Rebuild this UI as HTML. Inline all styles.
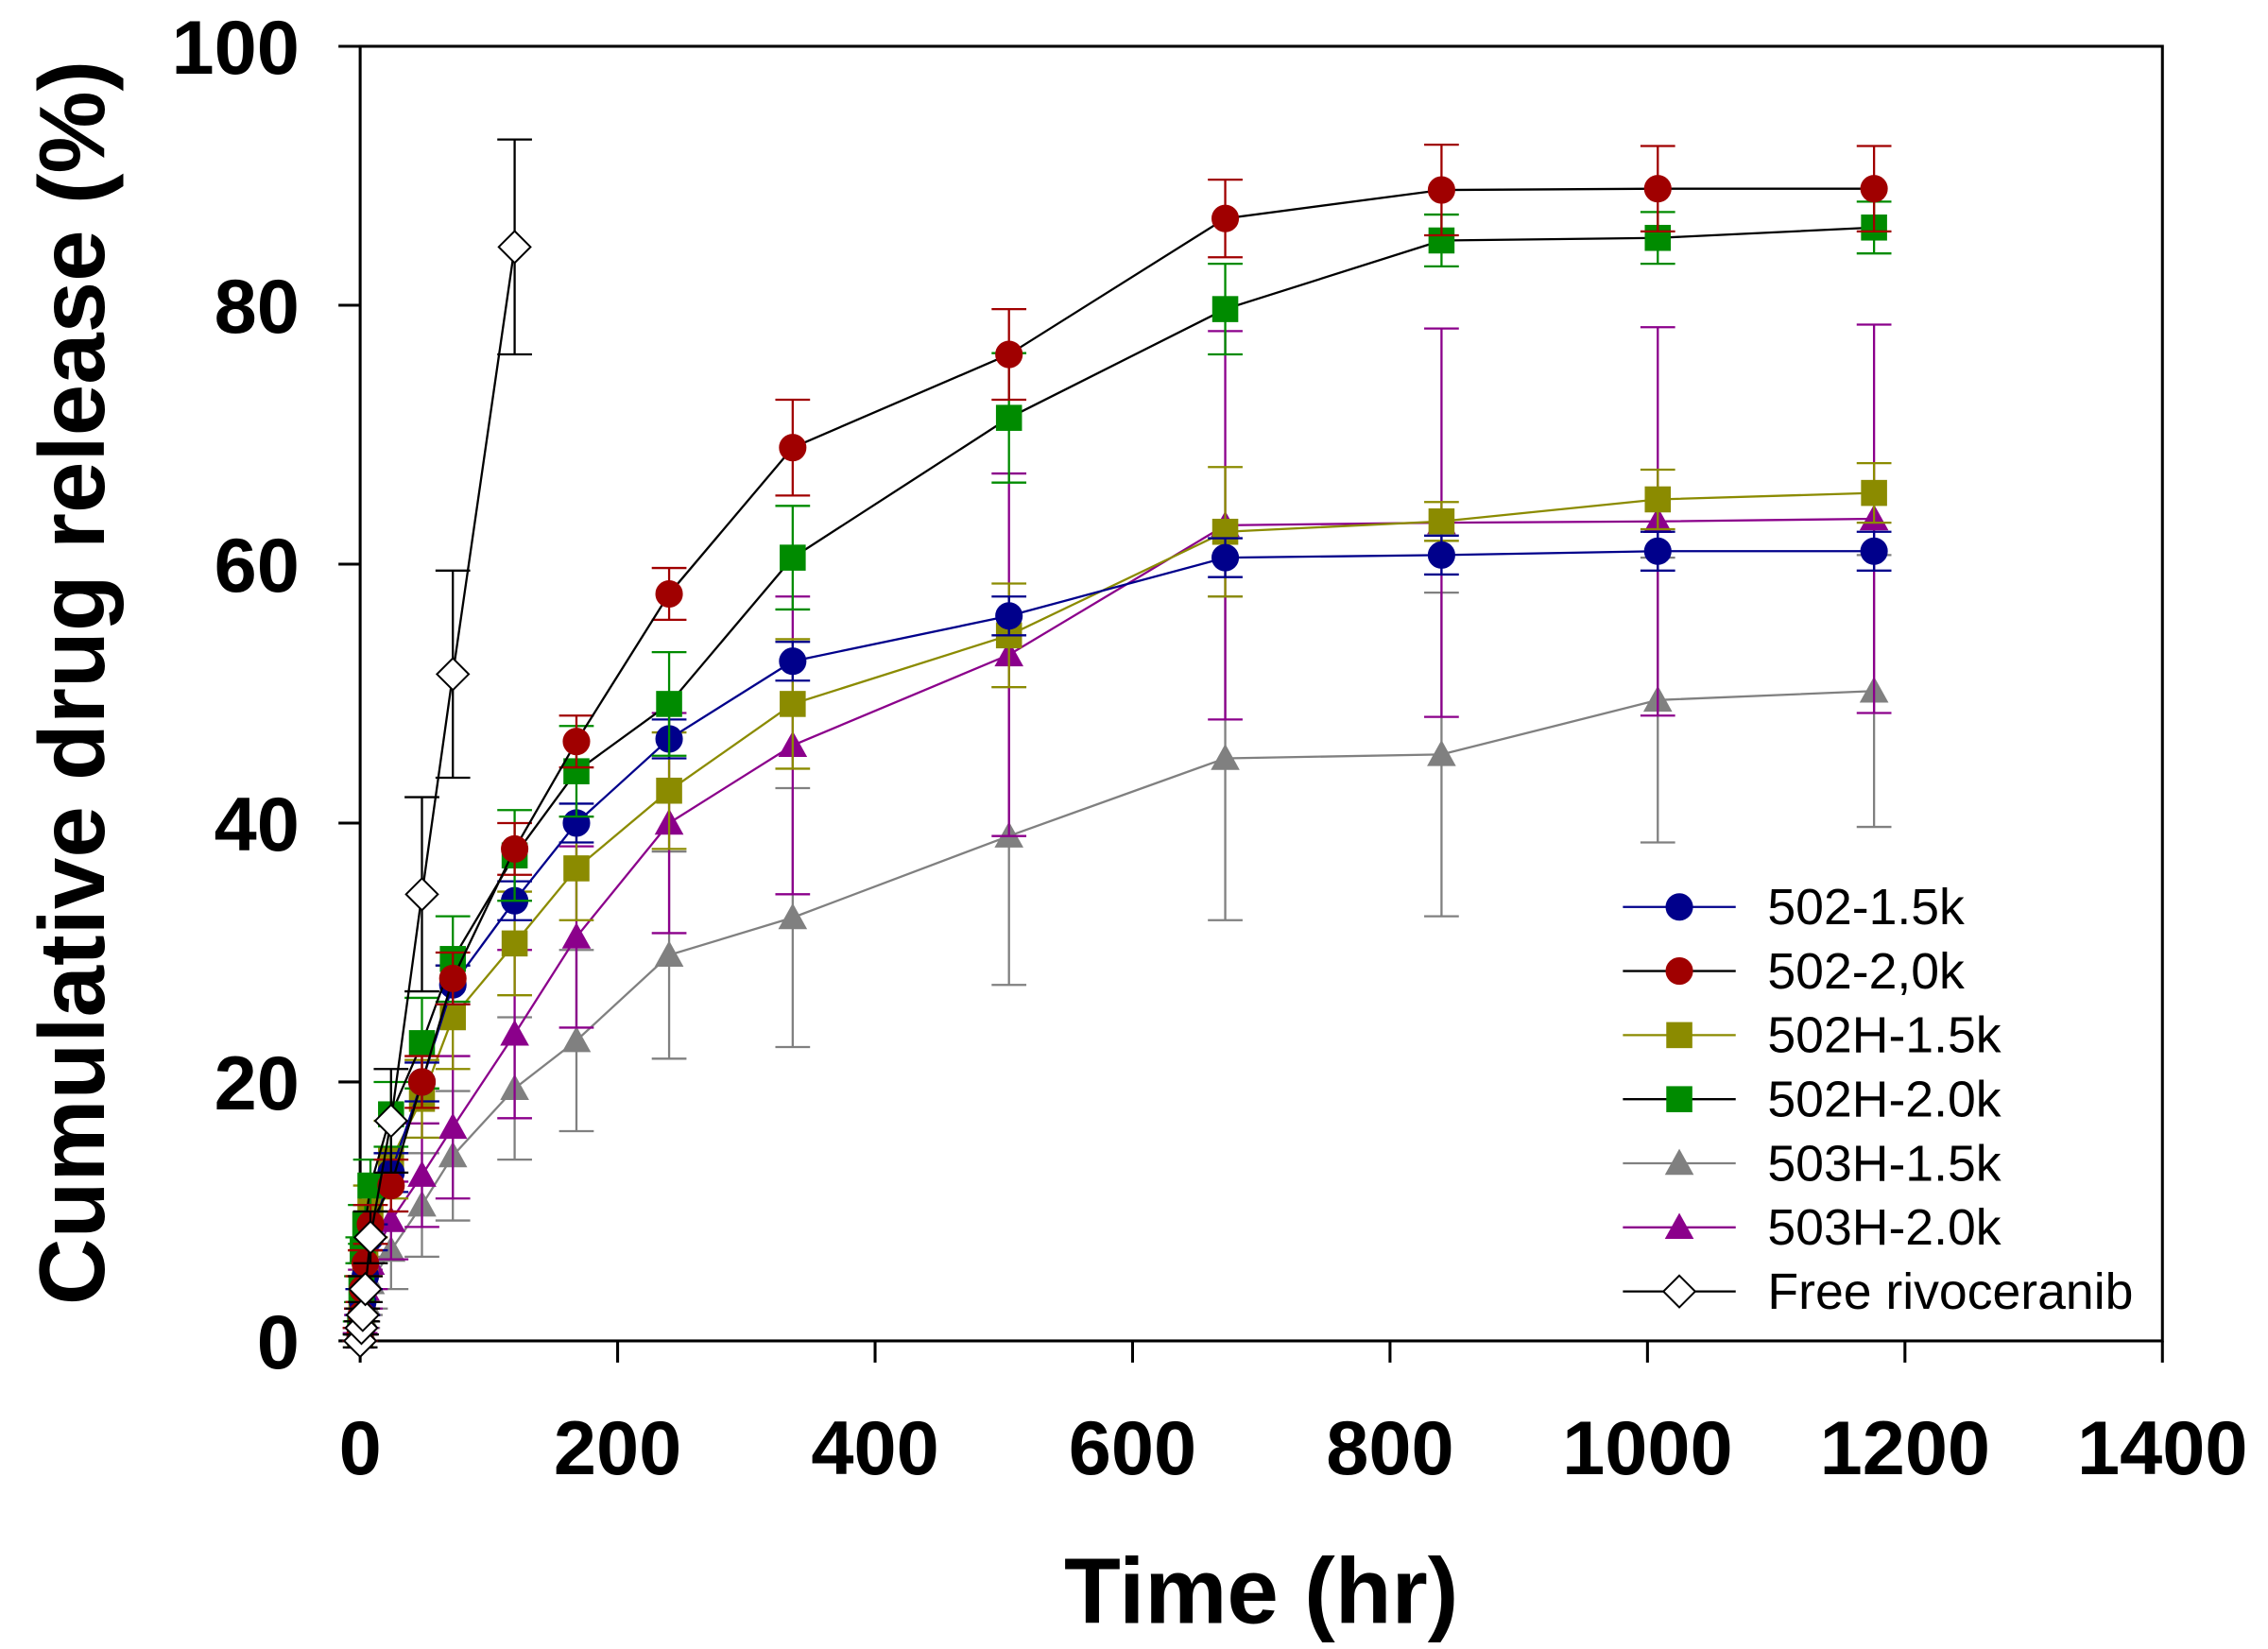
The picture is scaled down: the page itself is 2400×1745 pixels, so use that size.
<!DOCTYPE html>
<html><head><meta charset="utf-8"><style>html,body{margin:0;padding:0;background:#fff}svg{display:block}</style></head>
<body>
<svg width="2400" height="1745" viewBox="0 0 1568 1140" preserveAspectRatio="none" xmlns="http://www.w3.org/2000/svg" font-family="Liberation Sans, Arial, sans-serif">
<g id="plot"></g>
</svg>
<script>
const times = [0,1,2,4,8,24,48,72,120,168,240,336,504,672,840,1008,1176];
const freeTimes = [0,1,2,4,8,24,48,72,120];
const freeVals = [0,1,2,4,8,17,34.5,51.5,84.5];
const freeErr = [0.5,0.5,0.5,1,2,4,7.5,8,8.3];
const blueVals = [0.5,2,3,5,8,13,20,27.5,34,40,46.5,52.5,56,60.5,60.7,61,61];
const blueErr = [0.5,0.5,1,1,1,1.5,1.5,1.5,1.5,1.5,1.5,1.5,1.5,1.5,1.5,1.5,1.5];
const redVals = [0.5,2,4,6,9,12,20,28,38,46.3,57.7,69,76.2,86.7,88.9,89,89];
const redErr = [0.5,0.5,1,1,1.5,2,2,2,2,2,2,3.7,3.5,3,3.5,3.3,3.3];
const oliveVals = [0.5,2,4,6,10,14,18.7,25,30.7,36.5,42.5,49.2,54.5,62.5,63.3,65,65.5];
const oliveErr = [0.5,0.5,1,1,2,3,3,4,4,4,4.5,5,4,5,1.5,2.3,2.3];
const greenVals = [1,4,7,9,12,17.5,23,29.5,37.5,44,49.2,60.5,71.3,79.7,85,85.2,86];
const greenErr = [0.5,1,1,1.5,2,2.5,3.5,3.3,3.5,3.5,4,4,5,3.5,2,2,2];
const grayVals = [0.3,1,2,3,4.5,7,10.5,14.3,19.5,23.2,29.8,32.7,39,45,45.3,49.5,50.2];
const grayErr = [0.3,0.5,1,1,2,3,4,5,5.5,7,8,10,11.5,12.5,12.5,11,10.5];
const purpleVals = [0.3,1.5,3,4,6,9.3,12.8,16.5,23.7,31.2,40,46,53,63,63.2,63.3,63.5];
const purpleErr = [0.3,0.5,1,1.5,2,3,4,5.5,6.5,7,8.5,11.5,14,15,15,15,15];
const xTicks = [0,200,400,600,800,1000,1200,1400];
const yTicks = [0,20,40,60,80,100];
const legendLabels = ["502-1.5k","502-2,0k","502H-1.5k","502H-2.0k","503H-1.5k","503H-2.0k","Free rivoceranib"];

const L=249,R=1495,T=32,B=927;
const sx=v=>L+(v/1400)*(R-L);
const sy=v=>B-(v/100)*(B-T);
const NS="http://www.w3.org/2000/svg";
const g=document.getElementById('plot');
function mk(tag,attrs,parent){const e=document.createElementNS(NS,tag);for(const k in attrs)e.setAttribute(k,attrs[k]);(parent||g).appendChild(e);return e;}

const frame=mk('rect',{x:L,y:T,width:R-L,height:B-T,fill:'none',stroke:'#000','stroke-width':2});


xTicks.forEach(t=>{
  const l=mk('line',{x1:sx(t),x2:sx(t),y1:B,y2:B+15,stroke:'#000','stroke-width':2});
  
  
  const tx=mk('text',{x:sx(t),y:1019,'text-anchor':'middle','font-size':53,'font-weight':'bold'});
  tx.textContent=t;
  
  
});
yTicks.forEach(t=>{
  const l=mk('line',{x1:L-15,x2:L,y1:sy(t),y2:sy(t),stroke:'#000','stroke-width':2});
  
  
  const tx=mk('text',{x:207,y:sy(t)+19,'text-anchor':'end','font-size':53,'font-weight':'bold'});
  tx.textContent=t;
  
  
});
const xt=mk('text',{x:872,y:1122,'text-anchor':'middle','font-size':64,'font-weight':'bold'});
xt.textContent='Time (hr)';


const yt=mk('text',{x:0,y:0,'text-anchor':'middle','font-size':64,'font-weight':'bold',transform:'translate(72,472) rotate(-90)'});
yt.textContent='Cumulative drug release (%)';



function marker(shape,x,y,fill,parent){
  if(shape==='circle')return mk('circle',{cx:x,cy:y,r:9,fill:fill,stroke:fill},parent);
  if(shape==='square')return mk('rect',{x:x-9,y:y-9,width:18,height:18,fill:fill},parent);
  if(shape==='tri')return mk('polygon',{points:`${x},${y-10} ${x+10},${y+8} ${x-10},${y+8}`,fill:fill},parent);
  return mk('polygon',{points:`${x},${y-11} ${x+11},${y} ${x},${y+11} ${x-11},${y}`,fill:'#fff',stroke:'#000','stroke-width':1.3},parent);
}
const series=[
 {n:'series-503h-1.5k',t:times,v:grayVals,e:grayErr,c:'#808080',s:'tri'},
 {n:'series-503h-2.0k',t:times,v:purpleVals,e:purpleErr,c:'#8b008b',s:'tri'},
 {n:'series-502h-1.5k',t:times,v:oliveVals,e:oliveErr,c:'#8b8b00',s:'square'},
 {n:'series-502-1.5k',t:times,v:blueVals,e:blueErr,c:'#00008b',s:'circle',lc:'#00008b'},
 {n:'series-502h-2.0k',t:times,v:greenVals,e:greenErr,c:'#008b00',s:'square',lc:'#000'},
 {n:'series-502-2.0k',t:times,v:redVals,e:redErr,c:'#a00000',s:'circle',lc:'#000'},
 {n:'series-free-rivoceranib',t:freeTimes,v:freeVals,e:freeErr,c:'#000',s:'diamond',lc:'#000'}
];
series.forEach(S=>{
  const sg=mk('g',{});
  
  
  S.t.forEach((t,i)=>{
    const x=sx(t),y1=sy(S.v[i]+S.e[i]),y2=sy(S.v[i]-S.e[i]);
    mk('line',{x1:x,x2:x,y1:y1,y2:y2,stroke:S.c,'stroke-width':1.5},sg);
    mk('line',{x1:x-12,x2:x+12,y1:y1,y2:y1,stroke:S.c,'stroke-width':1.5},sg);
    mk('line',{x1:x-12,x2:x+12,y1:y2,y2:y2,stroke:S.c,'stroke-width':1.5},sg);
  });
  mk('polyline',{points:S.t.map((t,i)=>sx(t)+','+sy(S.v[i])).join(' '),fill:'none',stroke:S.lc||S.c,'stroke-width':1.5},sg);
  S.t.forEach((t,i)=>{
    const m=marker(S.s,sx(t),sy(S.v[i]),S.c,sg);
    
    
  });
});
const legendStyles=[['circle','#00008b','#00008b'],['circle','#a00000','#000'],['square','#8b8b00','#8b8b00'],['square','#008b00','#000'],['tri','#808080','#808080'],['tri','#8b008b','#8b008b'],['diamond','#000','#000']];
const lg=mk('g',{});


legendLabels.forEach((lab,i)=>{
  const y=627+i*44.3;
  const eg=mk('g',{},lg);
  
  
  mk('line',{x1:1122,x2:1200,y1:y,y2:y,stroke:legendStyles[i][2],'stroke-width':1.5},eg);
  marker(legendStyles[i][0],1161,y,legendStyles[i][1],eg);
  const tx=mk('text',{x:1222,y:y+12,'font-size':35},eg);
  tx.textContent=lab;
});
</script>
</body></html>
